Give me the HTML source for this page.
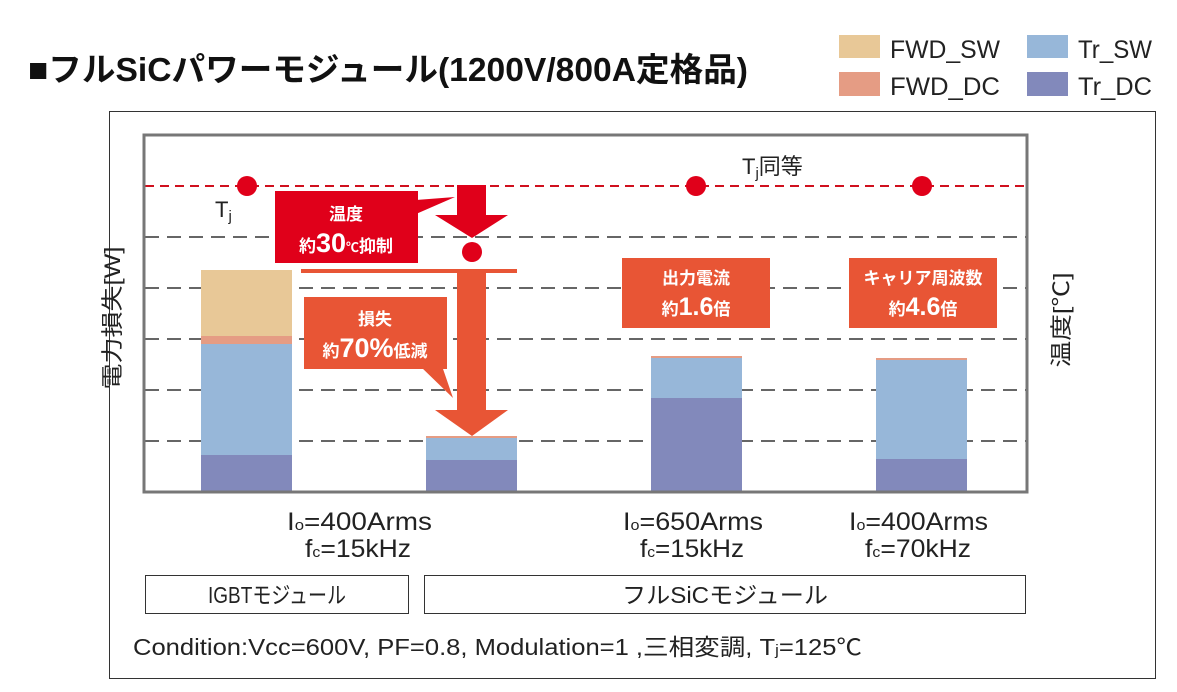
<!DOCTYPE html>
<html><head><meta charset="utf-8"><style>
html,body{margin:0;padding:0;background:#fff}
svg{display:block}
text{font-family:"Liberation Sans","Noto Sans CJK JP",sans-serif}
</style></head><body>
<svg width="1177" height="692" viewBox="0 0 1177 692" xmlns="http://www.w3.org/2000/svg">
<rect width="1177" height="692" fill="#fff"/>
<text x="28" y="81" font-size="33" font-weight="bold" fill="#111" textLength="720" lengthAdjust="spacingAndGlyphs">■フルSiCパワーモジュール(1200V/800A定格品)</text>
<rect x="839" y="35" width="41" height="23" fill="#e8c897"/>
<text x="890" y="58" font-size="25" fill="#222" textLength="110" lengthAdjust="spacingAndGlyphs">FWD_SW</text>
<rect x="839" y="72" width="41" height="24" fill="#e59c84"/>
<text x="890" y="95" font-size="25" fill="#222" textLength="110" lengthAdjust="spacingAndGlyphs">FWD_DC</text>
<rect x="1027" y="35" width="41" height="23" fill="#97b7d9"/>
<text x="1078" y="58" font-size="25" fill="#222" textLength="74" lengthAdjust="spacingAndGlyphs">Tr_SW</text>
<rect x="1027" y="72" width="41" height="24" fill="#8289bb"/>
<text x="1078" y="95" font-size="25" fill="#222" textLength="74" lengthAdjust="spacingAndGlyphs">Tr_DC</text>
<rect x="109.5" y="111.5" width="1046" height="567" fill="none" stroke="#333" stroke-width="1"/>
<g stroke="#666" stroke-width="2" stroke-dasharray="14,8">
<line x1="145" y1="237" x2="1026" y2="237"/>
<line x1="145" y1="288" x2="1026" y2="288"/>
<line x1="145" y1="339" x2="1026" y2="339"/>
<line x1="145" y1="390" x2="1026" y2="390"/>
<line x1="145" y1="441" x2="1026" y2="441"/>
</g>
<line x1="145" y1="186" x2="1026" y2="186" stroke="#d0101e" stroke-width="2" stroke-dasharray="9,6"/>
<rect x="201" y="270" width="91" height="66" fill="#e8c897"/>
<rect x="201" y="336" width="91" height="8" fill="#e59c84"/>
<rect x="201" y="344" width="91" height="111" fill="#97b7d9"/>
<rect x="201" y="455" width="91" height="37" fill="#8289bb"/>
<rect x="426" y="436" width="91" height="2" fill="#e59c84"/>
<rect x="426" y="438" width="91" height="22" fill="#97b7d9"/>
<rect x="426" y="460" width="91" height="32" fill="#8289bb"/>
<rect x="651" y="356" width="91" height="2" fill="#e59c84"/>
<rect x="651" y="358" width="91" height="40" fill="#97b7d9"/>
<rect x="651" y="398" width="91" height="94" fill="#8289bb"/>
<rect x="876" y="358" width="91" height="2" fill="#e59c84"/>
<rect x="876" y="360" width="91" height="99" fill="#97b7d9"/>
<rect x="876" y="459" width="91" height="33" fill="#8289bb"/>
<rect x="144" y="135" width="883" height="357" fill="none" stroke="#777" stroke-width="3"/>
<g fill="#e0001a">
<circle cx="247" cy="186" r="10"/>
<circle cx="696" cy="186" r="10"/>
<circle cx="922" cy="186" r="10"/>
<circle cx="472" cy="252" r="10"/>
</g>
<text x="215" y="217" font-size="22" fill="#222">T<tspan font-size="15" dy="4">j</tspan></text>
<text x="742" y="174" font-size="22" fill="#222">T<tspan font-size="15" dy="4">j</tspan><tspan dy="-4">同等</tspan></text>
<polygon points="457,185 486,185 486,215 508,215 472,238 435,215 457,215" fill="#e0001a"/>
<polygon points="416,200 416,214 455,197" fill="#e0001a"/>
<rect x="275" y="191" width="143" height="72" fill="#e0001a"/>
<text x="346" y="220" font-size="17" font-weight="bold" fill="#fff" text-anchor="middle">温度</text>
<text x="346" y="252" font-size="17" font-weight="bold" fill="#fff" text-anchor="middle">約<tspan font-size="27">30</tspan><tspan font-size="13">℃</tspan>抑制</text>
<rect x="301" y="269" width="216" height="4" fill="#e85535"/>
<polygon points="457,273 486,273 486,410 508,410 472,436 435,410 457,410" fill="#e85535"/>
<polygon points="420,366 442,366 453,398" fill="#e85535"/>
<rect x="304" y="297" width="143" height="72" fill="#e85535"/>
<text x="375" y="325" font-size="17" font-weight="bold" fill="#fff" text-anchor="middle">損失</text>
<text x="375" y="357" font-size="17" font-weight="bold" fill="#fff" text-anchor="middle">約<tspan font-size="27">70%</tspan>低減</text>
<rect x="622" y="258" width="148" height="70" fill="#e85535"/>
<text x="696" y="284" font-size="17" font-weight="bold" fill="#fff" text-anchor="middle">出力電流</text>
<text x="696" y="315" font-size="17" font-weight="bold" fill="#fff" text-anchor="middle">約<tspan font-size="25">1.6</tspan>倍</text>
<rect x="849" y="258" width="148" height="70" fill="#e85535"/>
<text x="923" y="284" font-size="17" font-weight="bold" fill="#fff" text-anchor="middle">キャリア周波数</text>
<text x="923" y="315" font-size="17" font-weight="bold" fill="#fff" text-anchor="middle">約<tspan font-size="25">4.6</tspan>倍</text>
<text transform="translate(120,318) rotate(-90)" font-size="22" fill="#222" text-anchor="middle" textLength="143" lengthAdjust="spacingAndGlyphs">電力損失[W]</text>
<text transform="translate(1069,320) rotate(-90)" font-size="22" fill="#222" text-anchor="middle" textLength="95" lengthAdjust="spacingAndGlyphs">温度[℃]</text>
<g font-size="25" fill="#222">
<text x="287" y="530" textLength="145" lengthAdjust="spacingAndGlyphs">I<tspan font-size="15">o</tspan>=400Arms</text>
<text x="305" y="557" textLength="106" lengthAdjust="spacingAndGlyphs">f<tspan font-size="15">c</tspan>=15kHz</text>
<text x="623" y="530" textLength="140" lengthAdjust="spacingAndGlyphs">I<tspan font-size="15">o</tspan>=650Arms</text>
<text x="640" y="557" textLength="104" lengthAdjust="spacingAndGlyphs">f<tspan font-size="15">c</tspan>=15kHz</text>
<text x="849" y="530" textLength="139" lengthAdjust="spacingAndGlyphs">I<tspan font-size="15">o</tspan>=400Arms</text>
<text x="865" y="557" textLength="106" lengthAdjust="spacingAndGlyphs">f<tspan font-size="15">c</tspan>=70kHz</text>
</g>
<rect x="145.5" y="575.5" width="263" height="38" fill="none" stroke="#333" stroke-width="1"/>
<text x="277" y="603" font-size="23" fill="#222" text-anchor="middle" textLength="138" lengthAdjust="spacingAndGlyphs">IGBTモジュール</text>
<rect x="424.5" y="575.5" width="601" height="38" fill="none" stroke="#333" stroke-width="1"/>
<text x="725" y="603" font-size="23" fill="#222" text-anchor="middle" textLength="206" lengthAdjust="spacingAndGlyphs">フルSiCモジュール</text>
<text x="133" y="655" font-size="23" fill="#222" textLength="729" lengthAdjust="spacingAndGlyphs">Condition:Vcc=600V, PF=0.8, Modulation=1 ,三相変調, T<tspan font-size="15">j</tspan>=125℃</text>
</svg>
</body></html>
